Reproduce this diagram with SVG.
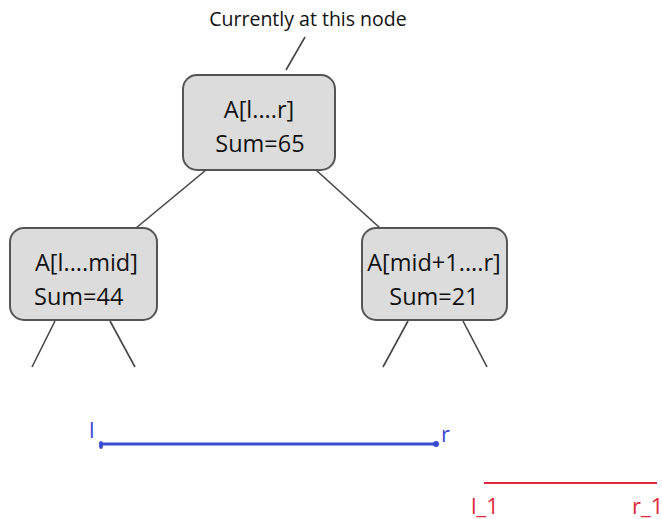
<svg xmlns="http://www.w3.org/2000/svg" width="662" height="519" viewBox="0 0 662 519">
<style>
.node rect{fill:#dcdcdc;stroke:#555;stroke-width:2}
.t{font-family:"Open Sans","Noto Sans",sans-serif;font-size:23.5px;fill:#111;text-anchor:middle}
.lbl{font-family:"Open Sans","Noto Sans",sans-serif;font-size:19.5px;fill:#111;text-anchor:middle}
.edge{stroke:#444;stroke-width:1.6;fill:none}
.blue{font-family:"Open Sans","Noto Sans",sans-serif;font-size:22px;fill:#3a4ad0}
.red{font-family:"Open Sans","Noto Sans",sans-serif;font-size:22px;fill:#e0283a}
</style>
<rect width="662" height="519" fill="#fff"/>
<g id="connectors">
<line class="edge" x1="206" y1="170" x2="136" y2="228"/>
<line class="edge" x1="316" y1="170" x2="380" y2="228"/>
<line class="edge" x1="55" y1="321" x2="32" y2="367"/>
<line class="edge" x1="110" y1="321" x2="135" y2="367"/>
<line class="edge" x1="408" y1="321" x2="383" y2="367"/>
<line class="edge" x1="463" y1="321" x2="487" y2="367"/>
<line class="edge" x1="305" y1="37" x2="286" y2="70" stroke="#111" stroke-width="2"/>
</g>
<g id="label-current"><text class="lbl" x="308" y="26">Currently at this node</text></g>
<g id="root" class="node">
<rect x="183" y="75" width="152" height="95" rx="14"/>
<text class="t" x="259" y="118">A[l....r]</text>
<text class="t" x="260" y="152">Sum=65</text>
</g>
<g id="left" class="node">
<rect x="10" y="228" width="147" height="92" rx="14"/>
<text class="t" x="35" y="271" style="text-anchor:start">A[l....mid]</text>
<text class="t" x="34" y="305" style="text-anchor:start">Sum=44</text>
</g>
<g id="right" class="node">
<rect x="362" y="228" width="145" height="92" rx="14"/>
<text class="t" x="434" y="271">A[mid+1....r]</text>
<text class="t" x="434" y="305">Sum=21</text>
</g>
<g id="blue-range">
<line x1="100" y1="444" x2="437" y2="444" stroke="#3a4ad0" stroke-width="3"/>
<ellipse cx="101" cy="445" rx="2" ry="4" fill="#3a4ad0"/>
<circle cx="436" cy="444" r="3" fill="#3a4ad0"/>
<text class="blue" x="89" y="438">l</text>
<text class="blue" x="441" y="442">r</text>
</g>
<g id="red-range">
<line x1="484" y1="483" x2="657" y2="483" stroke="#e0283a" stroke-width="2"/>
<text class="red" x="471" y="514">l_1</text>
<text class="red" x="632" y="514">r_1</text>
</g>
</svg>
